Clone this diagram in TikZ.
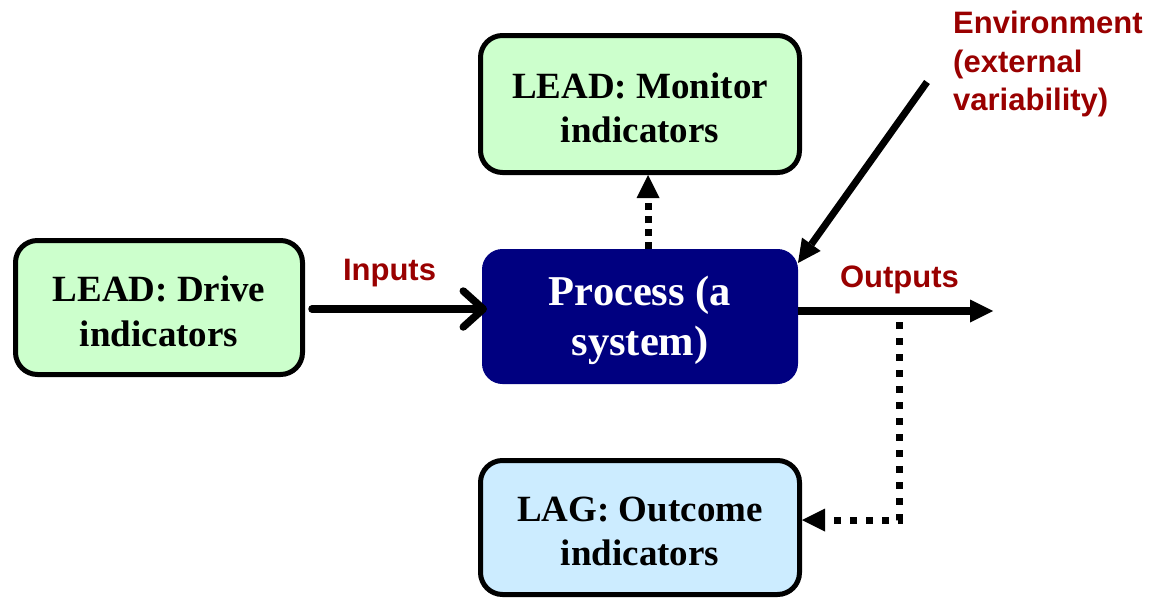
\documentclass[tikz,border=0pt]{standalone}
\usepackage{fontspec}
\setmainfont{Liberation Serif}
\newfontfamily\labelsans{Liberation Sans}
\usetikzlibrary{arrows.meta}

\definecolor{leadgreen}{HTML}{CCFFCC}
\definecolor{lagblue}{HTML}{CCECFF}
\definecolor{procnavy}{HTML}{000080}
\definecolor{labelred}{HTML}{990000}

% invisible strut that sets the top of a box text
\newcommand{\toprule}[1]{\rule{0pt}{#1}}

\begin{document}
\begin{tikzpicture}[x=1pt, y=-1pt,
  indbox/.style={draw=black, line width=5pt, rounded corners=22pt,
    align=center, inner sep=0pt,
    font=\fontsize{37}{44.5}\selectfont\bfseries},
  procbox/.style={draw=procnavy, fill=procnavy, line width=1pt,
    rounded corners=20pt, align=center, inner sep=0pt, text=white,
    font=\fontsize{42.5}{50}\selectfont\bfseries},
  flowlabel/.style={text=labelred, inner sep=0pt,
    font=\labelsans\bfseries\fontsize{31}{38.5}\selectfont},
  solidflow/.style={line width=7.5pt,
    -{Triangle[length=23pt, width=23pt, line width=0pt]}},
  inflow/.style={line width=7.5pt, line cap=round,
    -{Straight Barb[length=20pt, width=36pt, line cap=round, line join=round]}},
  measure/.style={line width=7pt, dash pattern=on 7pt off 9pt,
    -{Triangle[length=23pt, width=23pt, line width=0pt]}}
]
\useasboundingbox (0,0) rectangle (1151,597);

% indicator boxes and the process
\node[indbox, fill=leadgreen, minimum width=287pt, minimum height=134pt]
  (drive) at (159,307.5) {\toprule{33pt}LEAD: Drive\\indicators};
\node[indbox, fill=leadgreen, minimum width=319pt, minimum height=137pt]
  (monitor) at (640,104) {\toprule{33pt}LEAD: Monitor\\indicators};
\node[procbox, minimum width=315pt, minimum height=134pt]
  (process) at (640,316.5) {\toprule{38pt}Process (a\\system)};
\node[indbox, fill=lagblue, minimum width=319pt, minimum height=134pt]
  (outcome) at (640,527.5) {\toprule{32.5pt}LAG: Outcome\\indicators};

% free ends of the connectors
\coordinate (inlevel) at (400,309);
\coordinate (outend) at (993,311);
\coordinate (tap) at (899,311);
\coordinate (envstart) at (927,82);

% inputs and outputs
\draw[inflow] ([xshift=7pt]drive.east |- inlevel) -- ([xshift=5pt]process.west |- inlevel);
\draw[solidflow, line width=8pt] (process.east |- outend) -- (outend);

% environment acting on the process
\draw[solidflow, line width=7pt] (envstart) -- ([yshift=-14pt]process.north east);

% indicator readings
\draw[measure, dash pattern=on 7pt off 6pt]
  ([xshift=8pt]process.north) -- ([xshift=8pt]monitor.south);
\draw[measure, dash phase=-11pt] (tap) |- ([yshift=7.5pt]outcome.east);

% labels
\node[flowlabel, anchor=base] (inputs) at (389.5,280) {Inputs};
\node[flowlabel, anchor=base] (outputs) at (899.5,287) {Outputs};
\node[flowlabel, anchor=north west, align=left] (environment) at (953,11)
  {Environment\\(external\\variability)};
\end{tikzpicture}
\end{document}
